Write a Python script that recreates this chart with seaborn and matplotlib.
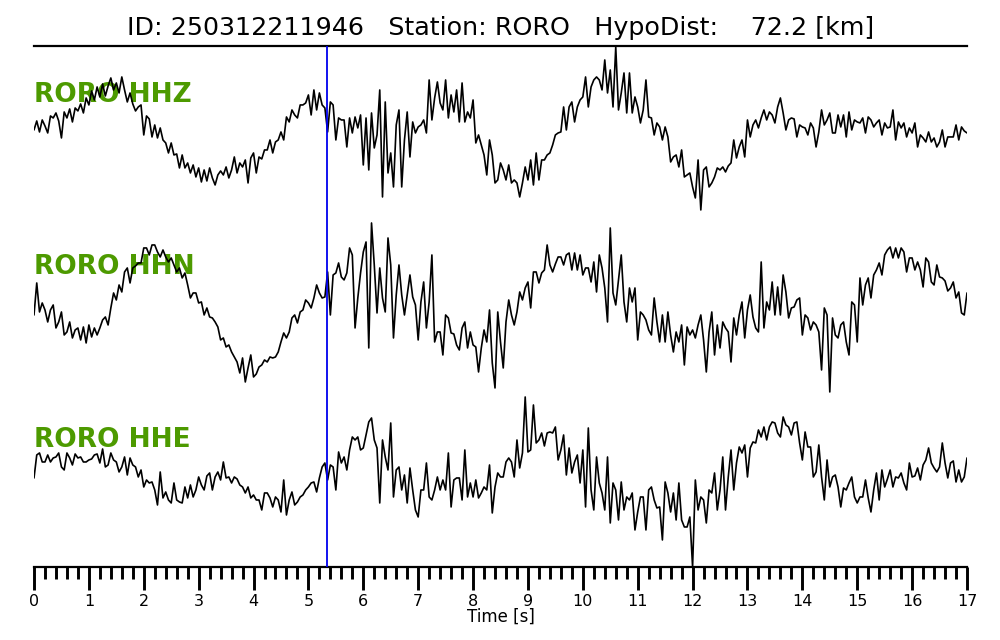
import numpy as np
import pandas as pd
import matplotlib
matplotlib.use('Agg')
import matplotlib.pyplot as plt
from matplotlib.ticker import MultipleLocator
import seaborn as sns

# event / station info
event_id = '250312211946'
station = 'RORO'
hypo_dist = 72.2
channels = ['HHZ', 'HHN', 'HHE']
dt = 0.05          # sample interval [s]
p_pick = 5.34      # pick time [s]

# traces (relative amplitude, up = positive), one row = 1 s
hhz = [0, 9, -2, 10, 4, -3, 14, 12, 17, 9, -8, 18, 12, 21, 8, 22, 19, 26, 17, 32,
       25, 39, 30, 43, 33, 46, 34, 44, 52, 40, 47, 37, 53, 40, 28, 37, 26, 19, 23, 25,
       -5, 14, 11, -7, 5, -8, 2, -10, -13, -23, -13, -25, -24, -38, -25, -38, -33, -43, -35, -47,
       -38, -52, -40, -51, -38, -48, -55, -45, -41, -45, -37, -48, -40, -27, -43, -33, -37, -30, -53, -28,
       -23, -43, -27, -29, -20, -20, -10, -23, -12, -10, -2, -10, 13, 8, 20, 15, 12, 25, 25, 27,
       35, 15, 40, 20, 37, 25, 22, -2, 28, 25, -10, 12, 10, 10, -17, 12, -3, 13, 2, 15,
       -35, 12, -40, 17, -18, -5, 40, -67, 28, -43, -23, -57, 5, 20, -57, -10, 18, -27, 8, -3,
       3, 5, 10, -3, 50, 10, 32, 48, 27, 20, 50, 12, 35, 18, 40, 8, 47, 8, 18, 12,
       30, -13, -5, -15, -25, -45, -10, -25, -53, -50, -33, -40, -50, -35, -53, -50, -53, -67, -53, -37,
       -50, -30, -55, -23, -50, -30, -30, -25, -23, -15, -5, -3, -2, 23, 0, 23, 28, 8, 23, 30,
       33, 53, 23, 43, 50, 53, 50, 40, 70, 37, 60, 23, 83, 20, 37, 57, 17, 57, 17, 33,
       23, 7, 20, 50, 13, 12, -5, 7, 3, -10, 3, -7, -32, -27, -25, -37, -20, -47, -45, -43,
       -57, -68, -30, -80, -40, -37, -57, -53, -47, -38, -40, -37, -42, -36, -33, -10, -28, -17, -10, -27,
       10, -7, 5, 10, 2, 12, 20, 10, 18, 15, 7, 23, 32, 17, 0, 10, 12, 11, -7, 5,
       3, 2, -5, 7, 2, -17, -2, 20, 5, 10, 17, -3, -3, 15, 3, 15, -7, 18, 0, 10,
       8, 7, 12, -3, 13, 10, 3, 7, 10, -5, 7, 2, 3, 20, -10, 8, 2, 7, -7, 2,
       -3, 7, -17, -5, -8, -12, -2, -12, -8, -17, -12, 0, -17, -7, -7, -7, 5, -10, 3, -1,
       -3]

hhn = [-15, 17, -12, -3, -10, -22, -10, -5, -28, -22, -12, -35, -32, -22, -38, -30, -28, -40, -27, -43,
       -25, -37, -28, -35, -28, -20, -17, -25, -8, 7, 0, 15, 8, 28, 32, 17, 32, 34, 37, 37,
       52, 52, 45, 55, 55, 48, 43, 50, 43, 38, 42, 35, 28, 32, 22, 27, 15, 2, 7, 7,
       -3, -2, -15, -8, -17, -18, -22, -27, -40, -38, -47, -45, -52, -57, -62, -73, -58, -82, -68, -55,
       -77, -74, -67, -65, -60, -62, -57, -58, -57, -52, -42, -33, -38, -32, -18, -15, -23, -12, -10, 0,
       -3, -8, 2, 15, 7, 2, 3, 28, -15, 25, 27, 37, 23, 20, 27, 52, 45, -28, 2, 27,
       48, 58, -48, 77, 35, -13, 32, 2, -12, 62, 35, -38, 5, 35, 5, -15, 5, 25, 3, -5,
       -40, -2, 18, -28, -2, 45, -42, -32, -32, -55, -15, -18, -33, -34, -45, -50, -28, -22, -48, -32,
       -45, -47, -72, -48, -30, -42, -10, -63, -88, -12, -42, -68, -22, 0, -15, -25, -12, 8, 0, 12,
       18, -8, 28, 28, 17, 27, 30, 55, 35, 28, 36, 43, 43, 35, 45, 47, 30, 47, 30, 45,
       25, 32, 32, 18, 38, 8, 45, 32, 12, -22, 72, 7, -5, 20, 45, -2, -22, 12, -2, 12,
       -40, -12, -15, -20, -30, -35, 2, -22, -42, -15, -42, -12, -35, -52, -32, -42, -25, -65, -27, -35,
       -30, -38, -25, -15, -40, -72, -32, -12, -55, -25, -48, -22, -28, -32, -62, -18, -35, -15, -2, -38,
       -10, 5, -17, -28, -32, 38, -28, -2, -10, 18, -15, 13, -15, 25, 8, -18, -8, -7, 0, 2,
       -35, -15, -18, -30, -22, -25, -32, -70, -8, -15, -92, -18, -35, -38, -25, -22, -42, -55, -2, -5,
       -42, 22, -5, 15, 22, 2, 25, 30, 37, 25, 45, 50, 53, 42, 52, 42, 52, 48, 28, 42,
       42, 30, 38, 30, 13, 42, 38, 18, 15, 35, 23, 22, 19, 9, 12, 18, 2, 8, -13, -15,
       7]

hhe = [-8, 15, 17, 8, 8, 15, 8, 12, 13, 17, 3, 0, 17, 12, 5, 16, 12, 13, 8, 8,
       10, 11, 15, 16, 7, 21, 3, 5, 17, 10, 8, -2, 3, 13, -5, 12, 5, 3, -7, 0,
       -17, -10, -13, -12, -20, -35, -2, -28, -22, -30, -33, -13, -30, -32, -33, -17, -28, -15, -27, -20,
       -7, -15, -20, -6, -3, -20, -7, -2, -10, 8, -8, -7, -13, -7, -9, -15, -17, -23, -17, -28,
       -25, -30, -30, -40, -23, -23, -28, -37, -27, -30, -42, -10, -45, -30, -22, -35, -32, -27, -25, -20,
       -17, -13, -12, -22, -8, 3, 7, -10, 5, 3, -20, 18, 7, 13, 0, 20, 33, 30, 33, 20,
       22, 35, 48, 52, 30, 22, -33, 30, 13, 0, 47, -27, 0, 3, -20, -5, -33, 2, -20, -40,
       -47, -20, -20, 7, -27, -30, -20, -7, -20, -10, -20, 17, -37, -10, -8, -8, -30, 20, -27, -13,
       -27, -10, -28, -23, -17, -20, 5, -43, -17, -3, -7, -7, 8, 12, 8, -7, 30, 2, 17, 73,
       18, 20, 65, 27, 30, 37, 24, 37, 38, 37, 43, 10, 20, 35, -5, 22, -3, 8, 15, -13,
       20, -37, 42, -20, -40, 13, -13, -23, -40, 13, -53, -13, -20, -50, -12, -40, -27, -30, -23, -60,
       -42, -27, -27, -60, -20, -17, -30, -38, -37, -70, -12, -23, -42, -23, -50, -13, -50, -57, -57, -47,
       -97, -10, -40, -27, -30, -53, -20, -23, -3, -40, -20, 13, -40, -7, 20, -20, 7, 23, 17, 25,
       -7, 22, 28, 27, 40, 33, 43, 30, 43, 48, 47, 37, 33, 53, 45, 43, 35, 47, 48, 27,
       10, 38, 23, 23, -7, -2, 25, -7, -30, 10, -17, -7, -5, -17, -37, -18, -20, -13, -7, -27,
       -33, -27, -27, -10, -28, -42, -20, -3, -30, 0, -17, -9, 0, -17, -7, -8, -3, -13, -20, 7,
       -7, -6, 2, -10, 5, 10, 22, 7, 2, -2, 3, 27, 7, -8, 7, 9, -12, 0, -12, -7,
       12]

traces = {'HHZ': hhz, 'HHN': hhn, 'HHE': hhe}

sns.set_style('white')
plt.rcParams['font.family'] = ['DejaVu Sans']
plt.rcParams['text.color'] = 'black'
plt.rcParams['axes.labelcolor'] = 'black'
plt.rcParams['xtick.color'] = 'black'

fig = plt.figure(figsize=(10, 6.4), dpi=100)
ax = fig.add_axes([0.034, 0.1141, 0.933, 0.8141])

# vertical placement of each trace and its label
offsets = {'HHZ': 437, 'HHN': 267, 'HHE': 97}
label_y = {'HHZ': 465, 'HHN': 293, 'HHE': 120}

for ch in channels:
    vals = np.array(traces[ch], dtype=float)
    df = pd.DataFrame({'t': np.arange(len(vals)) * dt, 'amp': vals + offsets[ch]})
    sns.lineplot(data=df, x='t', y='amp', ax=ax, color='black', lw=1.2,
                 estimator=None, sort=False, zorder=3)
    ax.text(0, label_y[ch], f'{station} {ch}', color='#4d9a00', fontsize=19,
            fontweight='bold', ha='left', va='baseline', zorder=1)

ax.axvline(p_pick, color='#0000ee', lw=1.3, zorder=4)

ax.set_xlim(0, 17)
ax.set_ylim(0, 521)
ax.set_yticks([])
ax.set_ylabel('')
ax.set_xlabel('Time [s]', fontsize=12, labelpad=-1, color='black')
ax.set_title(f'ID: {event_id}   Station: {station}   HypoDist:    {hypo_dist} [km]',
             fontsize=18.3, pad=8, color='black')

ax.xaxis.set_major_locator(MultipleLocator(1))
ax.xaxis.set_minor_locator(MultipleLocator(0.2))
ax.tick_params(axis='x', which='major', direction='out', length=16.5, width=2.1,
               labelsize=11.5, pad=3, bottom=True, colors='black')
ax.tick_params(axis='x', which='minor', direction='out', length=8.5, width=2.1,
               bottom=True, colors='black')

for side in ['left', 'right']:
    ax.spines[side].set_visible(False)
for side in ['top', 'bottom']:
    ax.spines[side].set_linewidth(1.6)
    ax.spines[side].set_color('black')

fig.savefig('out.png', dpi=100)
